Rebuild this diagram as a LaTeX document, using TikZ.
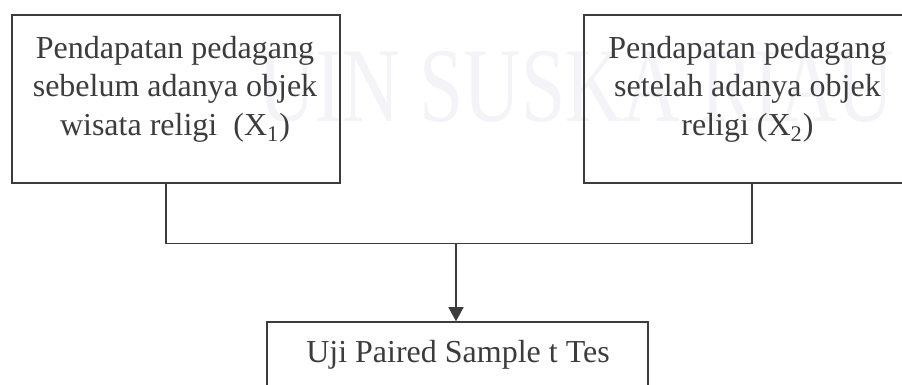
\documentclass[tikz,border=0pt]{standalone}
\usepackage{fontspec}
\setmainfont{Liberation Serif}
\usetikzlibrary{arrows.meta}
\definecolor{ink}{RGB}{60,60,60}
\definecolor{wmark}{RGB}{243,243,248}
\tikzset{
  boxshape/.style={draw=ink, line width=0.75pt, rectangle, inner sep=0pt},
  boxtext/.style={text=ink, align=center, inner sep=0pt, anchor=base,
    font=\fontsize{16}{19.5}\selectfont},
  conn/.style={draw=ink, line width=0.75pt},
  arrowconn/.style={conn, -{Triangle[width=7.5pt,length=7pt]}},
  watermark/.style={text=wmark, inner sep=0pt, anchor=base west,
    font=\fontsize{53}{60}\selectfont}
}
\begin{document}
\begin{tikzpicture}[x=0.5pt,y=-0.5pt]
\useasboundingbox (0,0) rectangle (902,385);
\clip (0,0) rectangle (902,385);
\node[watermark] (wm) at (258,122) {\scalebox{0.75}[1]{UIN SUSKA RIAU}};
% boxes
\node[boxshape, minimum width=164pt, minimum height=84pt] (L) at (176,99) {};
\node[boxshape, minimum width=163.5pt, minimum height=84pt] (R) at (747.5,99) {};
\node[boxshape, minimum width=190.5pt, minimum height=39pt] (B) at (457.5,361) {};
% texts (base anchor = last line)
\node[boxtext] (Lt) at (175,136) {Pendapatan pedagang\\ sebelum adanya objek\\ wisata religi\ \ (X\textsubscript{1})};
\node[boxtext] (Rt) at (747.5,136) {Pendapatan pedagang\\ setelah adanya objek\\ religi (X\textsubscript{2})};
\node[boxtext] (Bt) at (458,363) {Uji Paired Sample t Tes};
% connectors
\coordinate (j) at (456,243);
\draw[conn] ([xshift=-5pt]L.south) -- ++(0,60) -| ([xshift=2.25pt]R.south);
\draw[arrowconn] (j) -- (j |- B.north);
\end{tikzpicture}
\end{document}
